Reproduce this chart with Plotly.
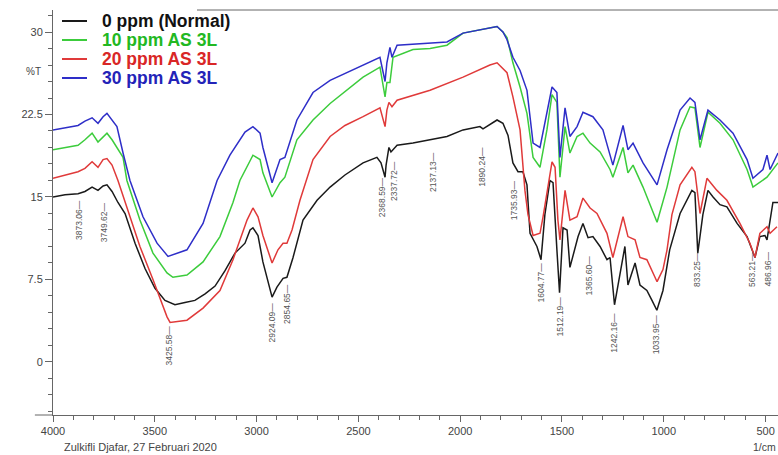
import plotly.graph_objects as go

# ---------------- data (wavenumber in 1/cm, transmittance in %T) ----------------
wn_0 = [4000, 3941, 3877, 3843, 3808, 3779, 3754, 3735, 3710, 3681, 3646, 3597, 3548, 3499, 3450, 3401,
        3352, 3303, 3253, 3204, 3155, 3106, 3057, 3032, 3018, 2993, 2969, 2924, 2900, 2870, 2851, 2821,
        2772, 2703, 2639, 2566, 2477, 2409, 2389, 2369, 2364, 2350, 2340, 2310, 2232, 2148, 2065, 1986,
        1903, 1888, 1854, 1819, 1790, 1765, 1741, 1716, 1692, 1672, 1657, 1623, 1603, 1584, 1559, 1544,
        1525, 1512, 1495, 1475, 1461, 1446, 1421, 1397, 1372, 1348, 1313, 1279, 1264, 1242, 1215, 1191,
        1176, 1141, 1117, 1083, 1058, 1034, 1004, 971, 920, 862, 847, 833, 808, 783, 758, 724, 690, 640,
        591, 552, 528, 503, 493, 464, 439]
t_0 = [15.0, 15.2, 15.3, 15.5, 15.9, 15.6, 16.0, 16.1, 15.5, 14.5, 13.5, 10.8, 8.5, 6.7, 5.6, 5.2,
       5.4, 5.6, 6.2, 6.9, 8.3, 9.9, 10.8, 12.0, 12.2, 11.5, 9.1, 5.9, 6.8, 7.6, 7.7, 9.5,
       12.9, 14.7, 15.9, 17.0, 18.1, 18.6, 18.1, 16.8, 17.9, 19.5, 19.1, 19.7, 19.9, 20.2, 20.5, 21.1,
       21.4, 21.2, 21.6, 22.0, 21.7, 20.6, 18.1, 17.3, 17.3, 16.1, 11.7, 10.5, 9.3, 13.4, 16.5, 16.3,
       10.2, 6.3, 12.2, 12.0, 8.6, 9.7, 11.4, 12.6, 11.3, 11.4, 10.5, 9.3, 9.5, 5.2, 8.1, 10.5,
       7.0, 9.0, 7.0, 6.5, 5.6, 4.7, 6.5, 10.2, 13.5, 15.6, 15.4, 9.9, 13.4, 15.6, 15.0, 14.3, 14.1, 12.6,
       11.4, 9.5, 11.4, 11.5, 11.1, 14.5, 14.5]

wn_10 = [4000, 3941, 3877, 3843, 3808, 3779, 3754, 3735, 3710, 3686, 3656, 3637, 3573, 3509, 3440, 3411,
         3342, 3263, 3180, 3116, 3082, 3018, 2983, 2969, 2924, 2885, 2861, 2802, 2723, 2639, 2477, 2394,
         2369, 2360, 2345, 2330, 2232, 2148, 2065, 1986, 1903, 1819, 1790, 1770, 1741, 1706, 1672, 1642,
         1608, 1574, 1549, 1525, 1510, 1485, 1461, 1426, 1397, 1362, 1313, 1264, 1250, 1200, 1176, 1151,
         1102, 1033, 984, 920, 871, 847, 822, 783, 724, 660, 591, 562, 493, 439]
t_10 = [19.3, 19.5, 19.7, 20.2, 20.8, 20.0, 20.5, 20.8, 20.2, 19.5, 18.6, 16.5, 12.9, 9.9, 8.1, 7.7,
        7.9, 9.1, 11.4, 14.5, 16.5, 18.8, 18.4, 17.2, 15.0, 16.3, 16.8, 20.2, 22.0, 23.5, 25.9, 26.8,
        24.1, 25.4, 25.4, 27.7, 28.4, 28.5, 28.8, 29.9, 30.2, 30.5, 30.0, 29.5, 27.2, 25.0, 22.6, 18.6,
        17.7, 21.1, 24.3, 23.6, 16.8, 21.4, 19.0, 20.5, 20.8, 19.9, 19.1, 17.5, 16.8, 19.5, 17.2, 17.9,
        15.9, 12.7, 15.9, 21.1, 23.2, 23.1, 19.5, 22.7, 21.7, 20.2, 17.5, 15.9, 16.8, 18.1]

wn_20 = [4000, 3941, 3877, 3843, 3808, 3779, 3754, 3735, 3710, 3681, 3637, 3573, 3509, 3440, 3425, 3342,
         3263, 3180, 3116, 3047, 3018, 2993, 2969, 2924, 2895, 2870, 2851, 2826, 2787, 2723, 2639, 2566,
         2477, 2394, 2369, 2360, 2350, 2335, 2310, 2148, 1986, 1854, 1819, 1790, 1770, 1741, 1706, 1682,
         1667, 1642, 1608, 1593, 1549, 1534, 1520, 1510, 1485, 1461, 1426, 1397, 1362, 1328, 1279, 1250,
         1200, 1176, 1141, 1117, 1083, 1033, 1004, 984, 960, 920, 862, 847, 822, 788, 739, 690, 626,
         577, 552, 528, 493, 478, 444]
t_20 = [16.7, 17.0, 17.3, 17.6, 18.2, 17.7, 18.4, 18.5, 17.9, 16.5, 14.1, 10.5, 7.5, 4.1, 3.6, 3.8,
        4.9, 6.5, 9.3, 12.9, 14.0, 13.2, 11.5, 9.0, 10.2, 10.8, 10.8, 12.0, 14.7, 18.4, 20.5, 21.5,
        22.3, 23.1, 21.4, 22.9, 23.6, 23.2, 23.8, 24.7, 25.9, 27.0, 27.2, 26.7, 26.3, 24.1, 21.1, 15.6,
        13.4, 11.5, 11.7, 13.2, 18.2, 17.7, 12.9, 11.1, 15.6, 12.9, 13.2, 14.9, 14.0, 13.5, 11.7, 9.5,
        13.2, 11.4, 11.1, 9.5, 9.3, 7.3, 8.4, 10.2, 13.4, 16.1, 17.7, 17.3, 13.5, 16.7, 15.6, 14.7, 12.6,
        10.8, 9.5, 11.7, 12.3, 11.7, 12.3]

wn_30 = [4000, 3917, 3877, 3843, 3808, 3779, 3754, 3735, 3710, 3686, 3656, 3622, 3558, 3489, 3435, 3342,
         3263, 3194, 3131, 3057, 3018, 2983, 2969, 2924, 2885, 2861, 2802, 2723, 2639, 2477, 2394, 2369,
         2360, 2345, 2335, 2310, 2148, 2065, 1986, 1903, 1819, 1790, 1770, 1741, 1706, 1672, 1642, 1608,
         1574, 1549, 1525, 1510, 1485, 1461, 1426, 1397, 1348, 1299, 1250, 1200, 1176, 1151, 1102, 1033,
         984, 920, 871, 847, 822, 783, 724, 660, 591, 562, 513, 493, 478, 439]
t_30 = [21.1, 21.4, 21.5, 21.9, 22.2, 21.7, 22.3, 22.6, 22.0, 21.4, 19.0, 16.5, 13.2, 10.8, 9.6, 10.2,
        12.6, 16.5, 18.8, 20.9, 21.4, 20.8, 19.5, 16.3, 18.4, 18.6, 22.0, 24.5, 25.6, 27.0, 27.7, 25.5,
        27.2, 28.6, 27.7, 28.8, 29.0, 29.1, 29.9, 30.2, 30.5, 30.0, 29.3, 27.7, 26.5, 24.7, 19.9, 19.5,
        22.6, 25.0, 24.5, 18.6, 23.1, 20.5, 21.4, 22.7, 22.3, 21.1, 17.9, 21.5, 19.3, 19.9, 18.1, 16.1,
        19.3, 22.9, 24.0, 23.6, 20.2, 22.9, 22.0, 20.8, 18.4, 16.7, 17.5, 18.8, 17.5, 19.0]

series_names = ["0 ppm (Normal)", "10 ppm AS 3L", "20 ppm AS 3L", "30 ppm AS 3L"]

peak_labels = ["3873.06", "3749.62", "3425.58", "2924.09", "2854.65", "2368.59", "2337.72", "2137.13",
               "1890.24", "1735.93", "1604.77", "1512.19", "1365.60", "1242.16", "1033.95", "833.25",
               "563.21", "486.96"]
peak_wn = [3873.06, 3749.62, 3425.58, 2924.09, 2854.65, 2368.59, 2337.72, 2137.13,
           1890.24, 1735.93, 1604.77, 1512.19, 1365.60, 1242.16, 1033.95, 833.25,
           563.21, 486.96]
label_top = [14.9, 14.7, 3.5, 5.6, 7.3, 17.0, 18.5, 19.3,
             19.7, 16.7, 9.2, 6.1, 9.9, 4.7, 4.5, 10.2,
             10.2, 10.2]
label_shift = [0, 0, 0, 0, 0, -3, 3, 0, 0, 0, 0, 0, 0, 0, 0, 0, 0, 0]

y_ticks = [0, 7.5, 15, 22.5, 30]
x_ticks = [4000, 3500, 3000, 2500, 2000, 1500, 1000, 500]

# ---------------- styling ----------------
line_colors = ["#1a1a1a", "#3ccc3c", "#e03a3a", "#2e2ec8"]
text_colors = ["#111111", "#22b822", "#d92626", "#2323b8"]
FONT = "Liberation Sans, Arial, sans-serif"
PLOT_W, PLOT_H = 725, 405  # plot area size in px, used to place the hand-made legend

fig = go.Figure()
for wn, t, name, lc in zip([wn_0, wn_10, wn_20, wn_30], [t_0, t_10, t_20, t_30],
                           series_names, line_colors):
    fig.add_trace(go.Scatter(x=wn, y=t, mode="lines", name=name,
                             line=dict(color=lc, width=1.5), showlegend=False))

# legend drawn as shapes + annotations (tight row spacing like the original)
legend_rows_px = [21, 40, 59, 78]
for name, lc, tc, py in zip(series_names, line_colors, text_colors, legend_rows_px):
    yp = (415 - py) / PLOT_H
    fig.add_shape(type="line", xref="paper", yref="paper",
                  x0=(62 - 53) / PLOT_W, x1=(87 - 53) / PLOT_W, y0=yp, y1=yp,
                  line=dict(color=lc, width=2))
    fig.add_annotation(x=(100 - 53) / PLOT_W, y=yp, xref="paper", yref="paper",
                       text=f"<b>{name}</b>", showarrow=False, xanchor="left", yanchor="middle",
                       font=dict(family=FONT, size=17.5, color=tc))

for lab, x, y, s in zip(peak_labels, peak_wn, label_top, label_shift):
    fig.add_annotation(
        x=x, y=y, xref="x", yref="y", text=lab + "—", showarrow=False,
        textangle=-90, xanchor="center", yanchor="top", xshift=s,
        font=dict(family=FONT, size=8.5, color="#555555"),
    )

fig.add_annotation(x=-0.04, y=26.4, xref="paper", yref="y", text="%T", showarrow=False,
                   xanchor="left", font=dict(family=FONT, size=10, color="#444444"))
fig.add_annotation(x=0.012, y=-0.08, xref="paper", yref="paper", text="Zulkifli Djafar, 27 Februari 2020",
                   showarrow=False, xanchor="left", yanchor="middle",
                   font=dict(family=FONT, size=11, color="#444444"))
fig.add_annotation(x=0.963, y=-0.08, xref="paper", yref="paper", text="1/cm",
                   showarrow=False, xanchor="left", yanchor="middle",
                   font=dict(family=FONT, size=10.5, color="#444444"))
# short stub of the x-axis to the left of the y-axis
fig.add_shape(type="line", xref="paper", yref="paper", x0=-0.025, x1=0, y0=0, y1=0,
              line=dict(color="#666666", width=1))
# top border line (starts right of the legend)
fig.add_shape(type="line", xref="paper", yref="paper", x0=(197 - 53) / PLOT_W, x1=1, y0=1, y1=1,
              line=dict(color="#666666", width=1))

fig.update_layout(
    width=778, height=455,
    margin=dict(l=53, r=0, t=10, b=40),
    paper_bgcolor="white", plot_bgcolor="white",
    font=dict(family=FONT, color="#444444"),
    showlegend=False,
    xaxis=dict(range=[4000, 439], showgrid=False, zeroline=False,
               showline=True, linecolor="#666666", linewidth=1,
               ticks="outside", ticklen=6, tickcolor="#666666",
               tickvals=x_ticks, ticktext=[str(v) for v in x_ticks],
               tickfont=dict(family=FONT, size=11, color="#444444"),
               minor=dict(dtick=100, ticks="outside", ticklen=4, tickcolor="#666666")),
    yaxis=dict(range=[-4.82, 32.0], showgrid=False, zeroline=False,
               showline=True, linecolor="#666666", linewidth=1,
               ticks="outside", ticklen=7, tickcolor="#666666",
               tickvals=y_ticks, ticktext=["0", "7.5", "15", "22.5", "30"],
               tickfont=dict(family=FONT, size=11, color="#444444"),
               minor=dict(dtick=1.5, ticks="outside", ticklen=4, tickcolor="#666666")),
)

fig.write_html("out.html", config={"displayModeBar": False},
               post_script="document.body.style.margin='0px';")
